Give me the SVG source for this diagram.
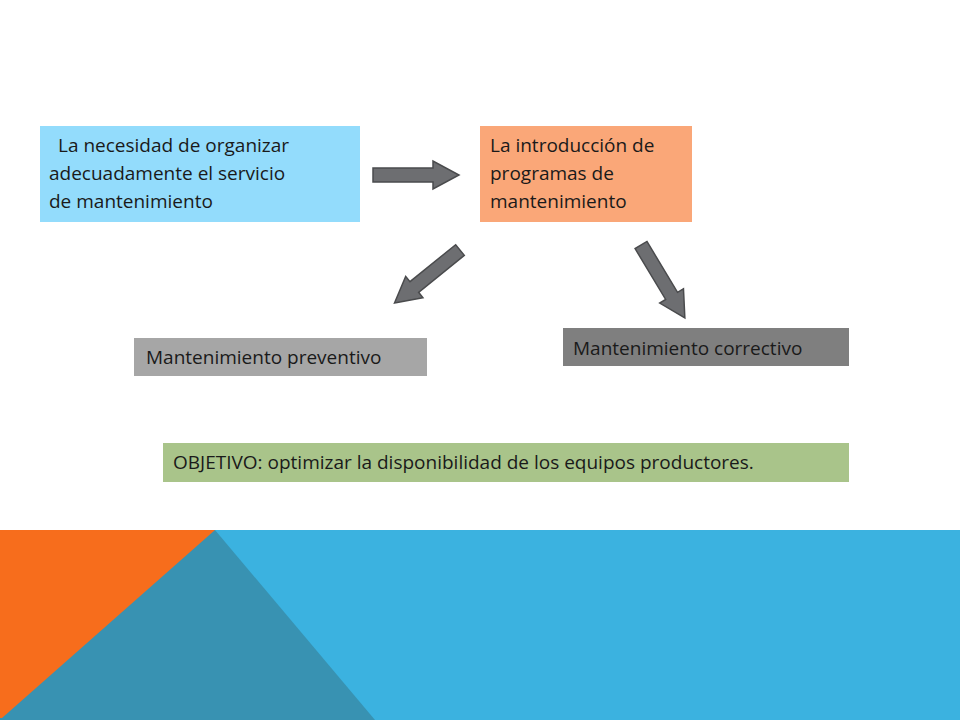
<svg xmlns="http://www.w3.org/2000/svg" width="960" height="720" viewBox="0 0 960 720">
<defs><style>
text{font-family:"Open Sans","Liberation Sans",sans-serif;font-size:19px;fill:#1a1a1a}
.arr{fill:#6d6e71;stroke:#4a4b4d;stroke-width:1.5}
</style>
<polygon id="ar" class="arr" points="0,-7 60,-7 60,-14 86,0 60,14 60,7 0,7"/>
</defs>
<rect width="960" height="720" fill="#fff"/>
<rect x="0" y="530" width="960" height="190" fill="#3bb2e0"/>
<polygon points="0,530 215,530 375,720 0,720" fill="#3892b2"/>
<polygon points="0,530 215,530 2,718 0,718" fill="#f76d1c"/>
<g id="n1"><rect x="40" y="126" width="320" height="96" fill="#93dcfc"/>
<text x="58" y="152">La necesidad de organizar</text><text x="49" y="180">adecuadamente el servicio</text><text x="49" y="208">de mantenimiento</text></g>
<g id="n2"><rect x="480" y="126" width="212" height="96" fill="#faa778"/>
<text x="490" y="152">La introducción de</text><text x="490" y="180">programas de</text><text x="490" y="208">mantenimiento</text></g>
<g id="n3"><rect x="134" y="338" width="293" height="38" fill="#a6a6a6"/><text x="146" y="364">Mantenimiento  preventivo</text></g>
<g id="n4"><rect x="563" y="328" width="286" height="38" fill="#7f7f7f"/><text x="573" y="355">Mantenimiento  correctivo</text></g>
<g id="n5"><rect x="163" y="443" width="686" height="39" fill="#a9c48a"/><text x="173" y="469">OBJETIVO: optimizar la disponibilidad de los equipos productores.</text></g>
<g id="connectors">
<use href="#ar" transform="translate(373,175)"/>
<use href="#ar" transform="translate(460,250) rotate(141) scale(0.98)"/>
<use href="#ar" transform="translate(641,245) rotate(59) scale(0.99)"/>
</g>
</svg>
